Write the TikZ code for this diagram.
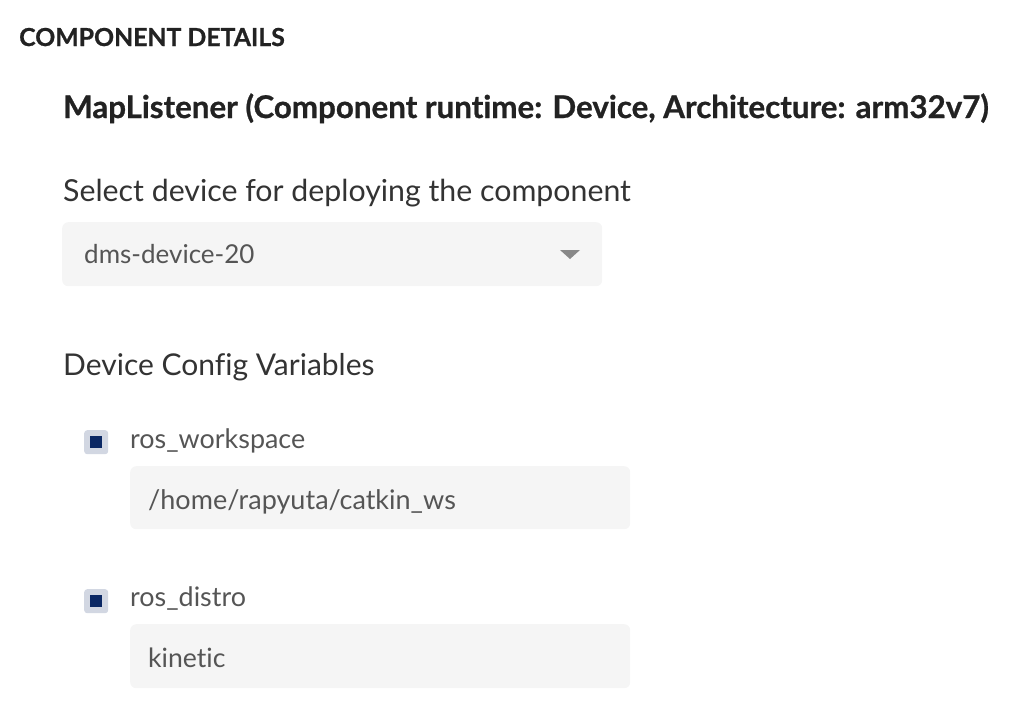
\documentclass[tikz,border=0pt]{standalone}
\usepackage{fontspec}
\setmainfont{Lato}[Ligatures=NoCommon, BoldFeatures={FakeBold=0.8}]
\usetikzlibrary{positioning}
\definecolor{inkdark}{HTML}{222222}
\definecolor{inklabel}{HTML}{333333}
\definecolor{inkvalue}{HTML}{555555}
\definecolor{fieldbg}{HTML}{F5F5F5}
\definecolor{boxbg}{HTML}{D2D7E2}
\definecolor{boxmark}{HTML}{0B2864}
\definecolor{caretgray}{HTML}{888888}

\begin{document}
\begin{tikzpicture}[x=1pt, y=-1pt,
    every node/.style = {inner sep=0pt, anchor=base west},
    heading/.style = {font=\bfseries\fontsize{24.8}{28}\selectfont, text=inkdark},
    title/.style = {font=\bfseries\fontsize{31.3}{35}\selectfont, text=inkdark},
    caption/.style = {font=\fontsize{30.3}{34}\selectfont, text=inklabel},
    varname/.style = {font=\fontsize{26.9}{30}\selectfont, text=inkvalue},
    value/.style = {font=\fontsize{26.6}{30}\selectfont, text=inkvalue},
    field/.style = {anchor=north west, fill=fieldbg, rounded corners=6pt,
      minimum height=63pt},
    checkbox/.style = {anchor=north west, fill=boxbg, rounded corners=3pt,
      minimum size=24pt},
    checkmark/.style = {anchor=center, fill=boxmark, minimum size=12pt}]
  \useasboundingbox (0,0) rectangle (1012,720);

  \node[heading] (details) at (19,46) {COMPONENT DETAILS};
  \node[title] (component) at (63,118)
    {MapListener (Component runtime: Device, Architecture: arm32v7)};

  % device selection
  \node[caption] (selectlabel) at (63,201) {Select device for deploying the component};
  \node[field, minimum width=540pt, minimum height=64pt] (devicefield) at (62,222) {};
  \node[value, font=\fontsize{26}{30}\selectfont] (devicename) at (84,263) {dms-device-20};
  \fill[caretgray] (560,250) -- (580,250) -- (570,259) -- cycle;

  % config variables
  \node[caption, font=\fontsize{30}{34}\selectfont] (configlabel) at (63,375) {Device Config Variables};

  \node[checkbox] (wsbox) at (84,430) {};
  \node[checkmark] (wsmark) at (wsbox.center) {};
  \node[varname] (wsname) at (130,448) {ros\_workspace};
  \node[field, minimum width=500pt] (wsfield) at (130,466) {};
  \node[value, font=\fontsize{27}{30}\selectfont] (wsvalue) at (148,509) {/home/rapyuta/catkin\_ws};

  \node[checkbox] (distrobox) at (84,589) {};
  \node[checkmark] (distromark) at (distrobox.center) {};
  \node[varname] (distroname) at (130,606) {ros\_distro};
  \node[field, minimum width=500pt, minimum height=64pt] (distrofield) at (130,624) {};
  \node[value] (distrovalue) at (148,667) {kinetic};
\end{tikzpicture}
\end{document}
